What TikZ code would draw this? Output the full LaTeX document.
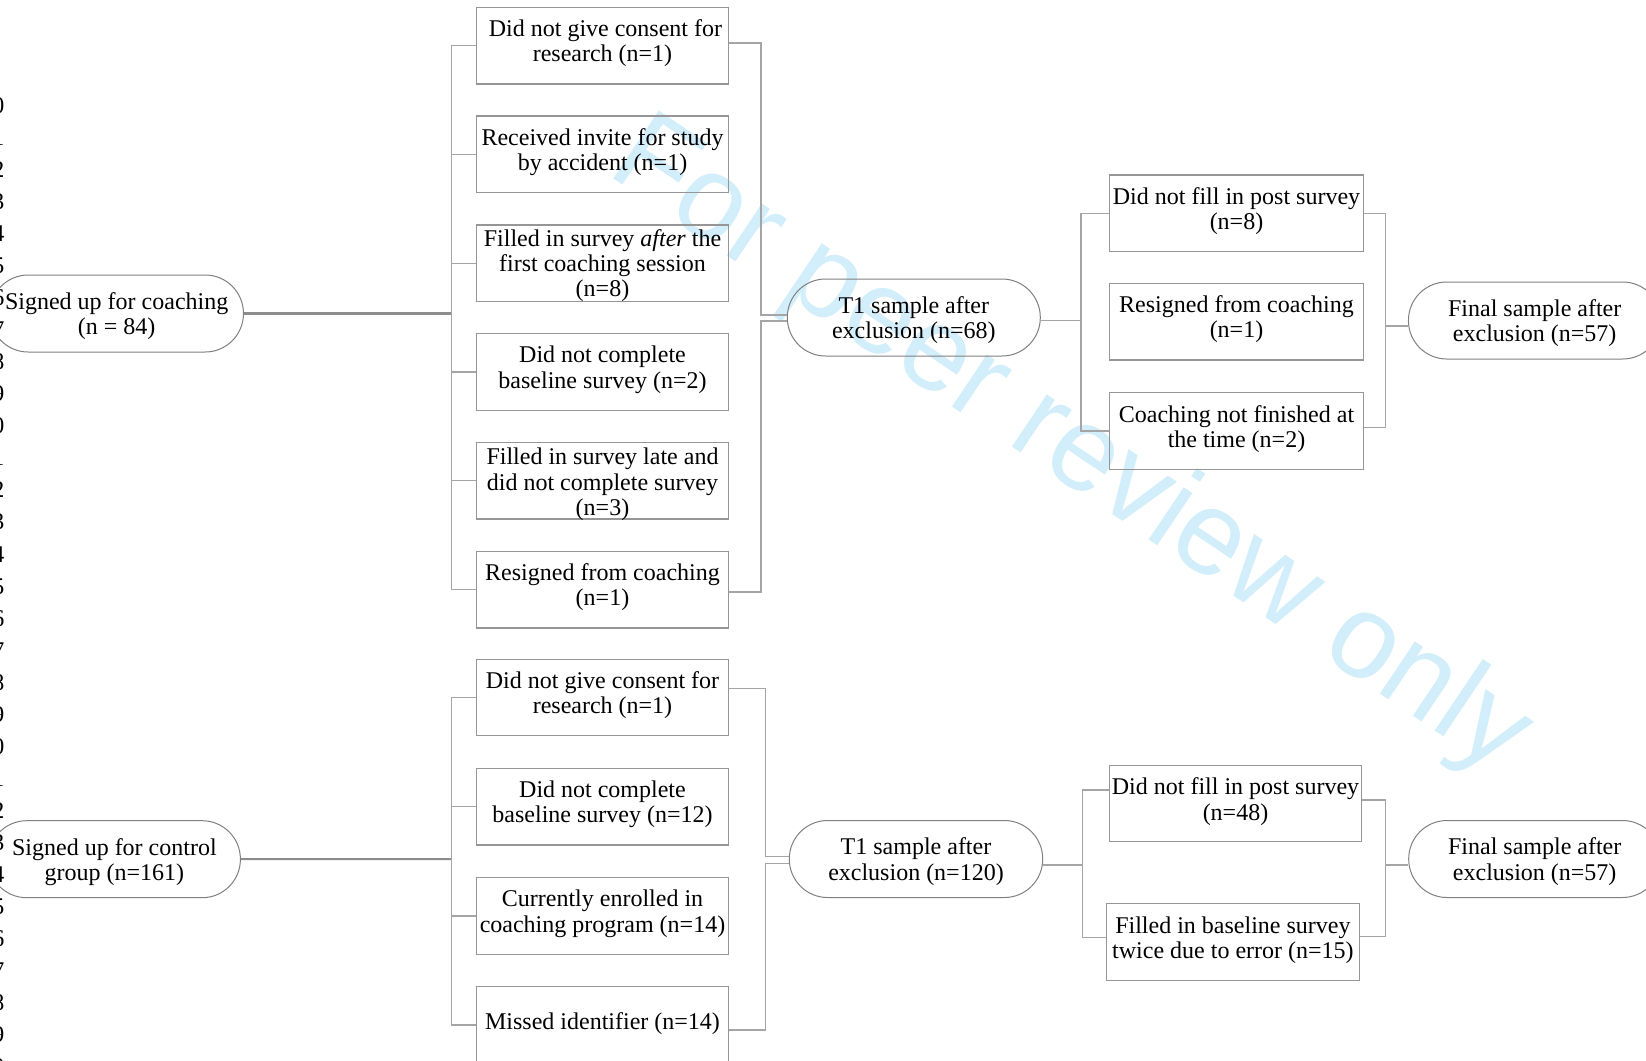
\documentclass[tikz,border=0pt]{standalone}
\usepackage{fontspec}
\setmainfont{Liberation Serif}
\newfontfamily\wmfont{Liberation Sans}
\definecolor{wm}{RGB}{210,238,251}
\definecolor{linec}{RGB}{165,165,165}
\definecolor{boxc}{RGB}{150,150,150}
\definecolor{stadc}{RGB}{128,128,128}
\definecolor{thickc}{RGB}{140,140,140}
\begin{document}
\begin{tikzpicture}[x=1pt,y=-1pt,
  txt/.style={font=\fontsize{24}{25.2}\selectfont, align=center, inner sep=0pt},
  box/.style={draw=boxc, line width=1.3pt, minimum width=#1, minimum height=76.6pt, inner sep=0pt},
  stad/.style={draw=stadc, line width=1pt, rounded corners=38.3pt, minimum width=#1, minimum height=77pt, inner sep=0pt},
  conn/.style={draw=linec, line width=1.3pt},
  lnum/.style={font=\fontsize{24}{24}\selectfont, inner sep=0pt, anchor=base east},
]
\useasboundingbox (0,0) rectangle (1646,1060);
\clip (0,0) rectangle (1646,1060);
\fill[white] (0,0) rectangle (1646,1060);

% watermark
\node[font=\wmfont\fontsize{119}{119}\selectfont, text=wm, anchor=base west, rotate=-33.9, inner sep=0pt] (wmark) at (605,173.6) {For peer review only};

% line numbers
\foreach \i in {10,...,40} {\node[lnum] (ln\i) at (4.6,{113.3+32.05*(\i-10)}) {\i};}

% stadium nodes
\node[stad=253.5] (A) at (116.7,313.5) {};
\node[stad=252] (B) at (114.4,859.2) {};
\node[stad=253] (C) at (913.8,317.5) {};
\node[stad=252.5] (E) at (1534.7,320.5) {};
\node[stad=253.4] (F) at (916,859) {};
\node[stad=252] (H) at (1534.7,859) {};
\node[txt] (At) at ([yshift=-2.6pt]A.center) {Signed up for coaching\\(n = 84)};
\node[txt] (Bt) at ([yshift=-2.6pt]B.center) {Signed up for control\\group (n=161)};
\node[txt] (Ct) at ([yshift=-2.6pt]C.center) {T1 sample after\\exclusion (n=68)};
\node[txt] (Et) at ([yshift=-2.6pt]E.center) {Final sample after\\exclusion (n=57)};
\node[txt] (Ft) at ([yshift=-2.6pt]F.center) {T1 sample after\\exclusion (n=120)};
\node[txt] (Ht) at ([yshift=-2.6pt]H.center) {Final sample after\\exclusion (n=57)};

% top middle boxes
\node[box=252] (m1) at (602.5,45.6) {};
\node[box=252] (m2) at (602.5,154.4) {};
\node[box=252] (m3) at (602.5,263.2) {};
\node[box=252] (m4) at (602.5,372) {};
\node[box=252] (m5) at (602.5,480.8) {};
\node[box=252] (m6) at (602.5,589.6) {};
\node[txt] (m1t) at ([yshift=2.2pt]m1.center) {\hspace*{6pt}Did not give consent for\\research (n=1)};
\node[txt] (m2t) at ([yshift=2.2pt]m2.center) {Received invite for study\\by accident (n=1)};
\node[txt] (m3t) at ([yshift=-2.5pt]m3.center) {Filled in survey \textit{after} the\\first coaching session\\(n=8)};
\node[txt] (m4t) at ([yshift=2.2pt]m4.center) {Did not complete\\baseline survey (n=2)};
\node[txt] (m5t) at ([yshift=-3.5pt]m5.center) {Filled in survey late and\\did not complete survey\\(n=3)};
\node[txt] (m6t) at ([yshift=2.2pt]m6.center) {Resigned from coaching\\(n=1)};

% bottom middle boxes
\node[box=252] (n1) at (602.5,697.5) {};
\node[box=252] (n2) at (602.5,806.7) {};
\node[box=252] (n3) at (602.5,915.9) {};
\node[box=252] (n4) at (602.5,1025) {};
\node[txt] (n1t) at ([yshift=2.2pt]n1.center) {Did not give consent for\\research (n=1)};
\node[txt] (n2t) at ([yshift=2.2pt]n2.center) {Did not complete\\baseline survey (n=12)};
\node[txt] (n3t) at ([yshift=2.2pt]n3.center) {Currently enrolled in\\coaching program (n=14)};
\node[txt] (n4t) at ([yshift=1pt]n4.center) {Missed identifier (n=14)};

% right boxes top
\node[box=254] (d1) at (1236.5,213.2) {};
\node[box=254] (d2) at (1236.5,321.7) {};
\node[box=254] (d3) at (1236.5,430.9) {};
\node[txt] (d1t) at ([yshift=2.4pt]d1.center) {Did not fill in post survey\\(n=8)};
\node[txt] (d2t) at ([yshift=2.2pt]d2.center) {Resigned from coaching\\(n=1)};
\node[txt] (d3t) at ([yshift=2.2pt]d3.center) {Coaching not finished at\\the time (n=2)};

% right boxes bottom
\node[box=252] (g1) at (1235.5,803.5) {};
\node[box=253] (g2) at (1232.9,942.1) {};
\node[txt] (g1t) at ([yshift=2pt]g1.center) {Did not fill in post survey\\(n=48)};
\node[txt] (g2t) at ([yshift=2pt]g2.center) {Filled in baseline survey\\twice due to error (n=15)};

% connectors top
\coordinate (jA) at (451.4,313.5);
\draw[line width=3.5pt, draw=thickc] (A.east) -- (jA);
\foreach \m in {m1,m2,m3,m4,m5,m6} {\draw[conn] (jA) |- (\m.west);}
\coordinate (jC) at (761,317.5);
\draw[conn] ([yshift=2.6pt]m1.east) -| ([yshift=2.5pt]jC) -- ([yshift=2.5pt]C.west);
\draw[conn] ([yshift=-2.4pt]m6.east) -| ([yshift=-3.5pt]jC) -- ([yshift=-3.5pt]C.west);
\coordinate (jD) at (1081,320.7);
\draw[conn] ([yshift=-3.2pt]C.east) -- (jD);
\draw[conn] (jD) |- (d1.west);
\draw[conn] (jD) |- (d3.west);
\coordinate (jE) at (1385.6,326);
\draw[conn] (d1.east) -| (jE);
\draw[conn] ([yshift=3.7pt]d3.east) -| (jE);
\draw[conn] (jE) -- ([yshift=-5.5pt]E.west);

% connectors bottom
\coordinate (jB) at (451.4,859);
\draw[line width=2pt, draw=thickc] (B.east) -- (jB);
\foreach \n in {n1,n2,n3,n4} {\draw[conn] (jB) |- (\n.west);}
\coordinate (jF) at (765.7,859);
\draw[conn] ([yshift=9.2pt]n1.east) -| ([yshift=2.3pt]jF) -- ([yshift=2.3pt]F.west);
\draw[conn] ([yshift=-5pt]n4.east) -| ([yshift=-4.3pt]jF) -- ([yshift=-4.3pt]F.west);
\coordinate (jG) at (1082.6,865);
\draw[conn] ([yshift=-6pt]F.east) -- (jG);
\draw[conn] (jG) |- ([yshift=13.5pt]g1.west);
\draw[conn] (jG) |- ([yshift=4.8pt]g2.west);
\coordinate (jH) at (1385.3,865);
\draw[conn] ([yshift=3.5pt]g1.east) -| (jH);
\draw[conn] ([yshift=5.4pt]g2.east) -| (jH);
\draw[conn] (jH) -- ([yshift=-6pt]H.west);
\end{tikzpicture}
\end{document}
